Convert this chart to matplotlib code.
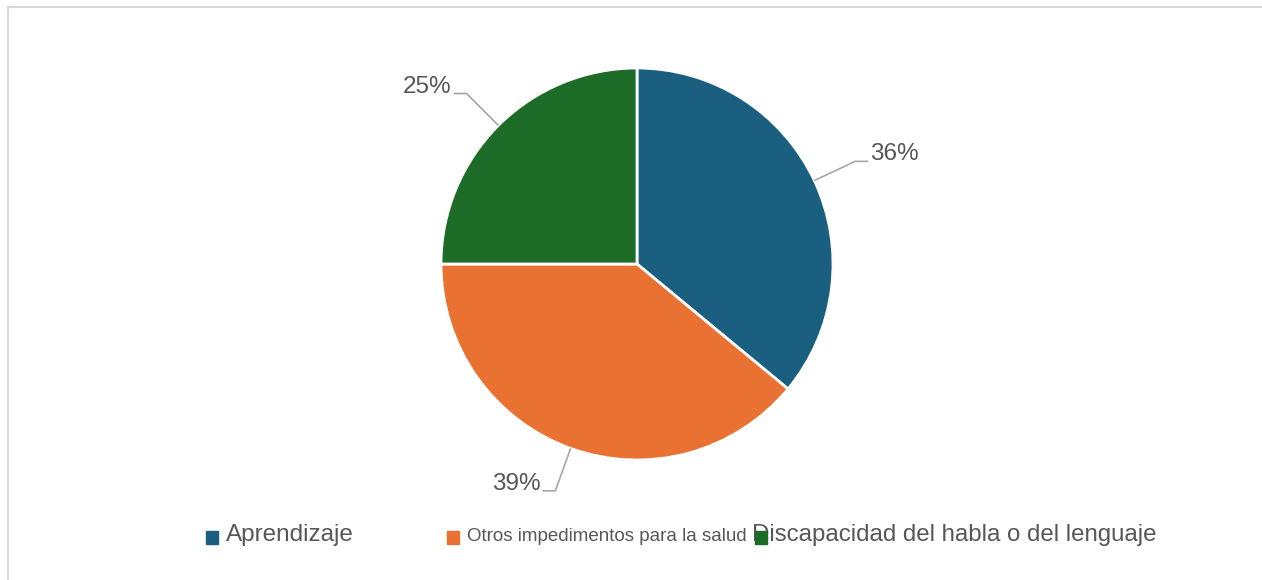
import matplotlib
matplotlib.use("Agg")
import matplotlib.pyplot as plt
import numpy as np
from matplotlib.lines import Line2D
from matplotlib.patches import Rectangle

# ----------------------------------------------------------------------
# Data
# ----------------------------------------------------------------------
categories = ["Aprendizaje", "Otros impedimentos para la salud",
              "Discapacidad del habla o del lenguaje"]
shares = [36, 39, 25]
colors = ["#1a5e80", "#e97132", "#1c6b27"]
legend_sizes = [17.5, 13.5, 17.3]

W, H = 1262, 580
plt.rcParams["font.family"] = ["Liberation Sans", "DejaVu Sans"]

fig = plt.figure(figsize=(W / 100, H / 100), dpi=100)
ax = fig.add_axes([0, 0, 1, 1])

# pie, in pixel coordinates (y measured from the bottom)
cx, cy, R = 637, H - 264, 196
wedges, _ = ax.pie(shares, colors=colors, startangle=90, counterclock=False,
                   center=(cx, cy), radius=R, frame=True,
                   wedgeprops=dict(edgecolor="white", linewidth=2))
ax.set_xlim(0, W)
ax.set_ylim(0, H)
ax.axis("off")

# percentage labels with elbow leader lines
for w, v in zip(wedges, shares):
    mid = np.deg2rad((w.theta1 + w.theta2) / 2)
    c, s = np.cos(mid), np.sin(mid)
    x0, y0 = cx + R * c, cy + R * s
    x1, y1 = cx + 1.23 * R * c, cy + 1.23 * R * s
    side = 1 if c >= 0 else -1
    x2 = x1 + side * 13
    ax.plot([x0, x1, x2], [y0, y1, y1], color="#a6a6a6", lw=1.2,
            solid_capstyle="butt")
    ax.text(x2 + side * 2, y1 + 1, f"{v}%", fontsize=17.5, color="#575757",
            ha="left" if side > 0 else "right", va="baseline")

# legend row
legend_x = [206, 447, 755]
for x, col, lab, fs in zip(legend_x, colors, categories, legend_sizes):
    ax.add_patch(Rectangle((x, H - 544), 12, 13, color=col, zorder=3))
    tx = x + 20 if lab != categories[2] else x - 3
    ax.text(tx, H - 541, lab, fontsize=fs, color="#575757",
            ha="left", va="baseline", zorder=2)

# faint frame along the top and left edges
fig.add_artist(Line2D([8 / W, 1], [1 - 6.5 / H, 1 - 6.5 / H],
                      transform=fig.transFigure, color="#d9d9d9", lw=1.5))
fig.add_artist(Line2D([8 / W, 8 / W], [0, 1 - 6.5 / H],
                      transform=fig.transFigure, color="#d9d9d9", lw=1.5))

fig.savefig("out.png", dpi=100, facecolor="white")
